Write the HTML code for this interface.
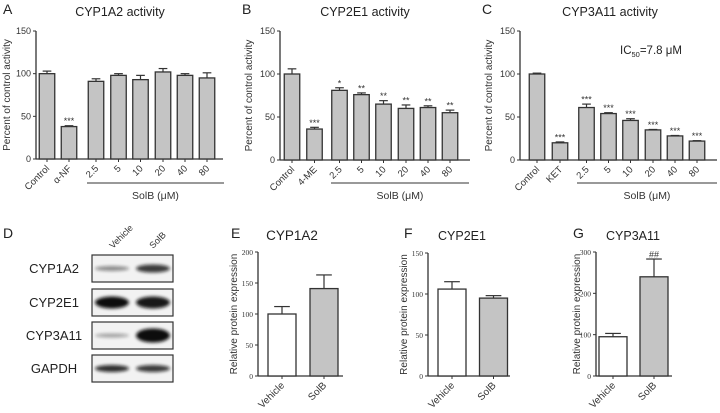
<!DOCTYPE html>
<html><head><meta charset="utf-8"><style>
body{margin:0;background:#fff}
svg{display:block;font-family:"Liberation Sans",sans-serif}
</style></head><body>
<svg id="fig" width="720" height="413" viewBox="0 0 720 413">
<defs><filter id="bl" x="-20%" y="-100%" width="140%" height="300%"><feGaussianBlur stdDeviation="1.6"/></filter></defs>
</svg>
<script>
// Panel A data
const catsA = ["Control","α-NF","2.5","5","10","20","40","80"];
const valsA = [100,38,91,98,93,102,98,95];
const errA = [3,1,3,2,5,4,2,6];
const starsA = ["","***","","","","","",""];
// Panel B data
const catsB = ["Control","4-ME","2.5","5","10","20","40","80"];
const valsB = [100,36,81,76,65,60,61,55];
const errB = [6,2,3,2,4,4,2,3];
const starsB = ["","***","*","**","**","**","**","**"];
// Panel C data
const catsC = ["Control","KET","2.5","5","10","20","40","80"];
const valsC = [100,20,61,54,46,35,28,22];
const errC = [1,1,4,1,2,0.5,0.5,0.5];
const starsC = ["","***","***","***","***","***","***","***"];
const ticksTop = [0,50,100,150];
// Panels E-G data
const catsWB = ["Vehicle","SolB"];
const valsE = [100,141]; const errE = [12,22]; const ticksE = [0,50,100,150,200];
const valsF = [106,95]; const errF = [9,3]; const ticksF = [0,50,100,150];
const valsG = [95,240]; const errG = [8,43]; const ticksG = [0,100,200,300];
const starsG = ["","##"];

const svg = document.getElementById('fig');
const NS = 'http://www.w3.org/2000/svg';
function el(tag, attrs, parent, text){
  const e = document.createElementNS(NS, tag);
  for (const k in attrs) e.setAttribute(k, attrs[k]);
  if (text !== undefined) e.textContent = text;
  (parent || svg).appendChild(e);
  return e;
}

function chart(o){
  const g = el('g', {});
  
  
  const y = v => o.y0 - (v / o.max) * (o.y0 - o.yTop);
  const ax = el('line', {x1:o.ax, y1:o.yTop, x2:o.ax, y2:o.y0, stroke:'#333','stroke-width':1.3}, g);
  
  
  const bx = el('line', {x1:o.ax, y1:o.y0, x2:o.xEnd, y2:o.y0, stroke:'#333','stroke-width':1.3}, g);
  
  
  o.ticks.forEach(t => {
    el('line', {x1:o.ax-3, y1:y(t), x2:o.ax, y2:y(t), stroke:'#333'}, g);
    const tl = el('text', {x:o.ax-5, y:y(t)+3, 'text-anchor':'end', 'font-size':o.tfs, fill:'#333', 'font-family':o.tff || 'Liberation Sans'}, g, t);
    
    
  });
  o.vals.forEach((v, i) => {
    const c = o.centers[i], w = o.bw;
    const e = o.err[i];
    el('line', {x1:c, y1:y(v), x2:c, y2:y(v+e), stroke:'#333','stroke-width':1.2}, g);
    el('line', {x1:c-w*0.28, y1:y(v+e), x2:c+w*0.28, y2:y(v+e), stroke:'#333','stroke-width':1.2}, g);
    const b = el('rect', {x:c-w/2, y:y(v), width:w, height:o.y0-y(v), fill:o.fills[i], stroke:'#333','stroke-width':1.3}, g);
    
    
    el('line', {x1:c, y1:o.y0, x2:c, y2:o.y0+3, stroke:'#333'}, g);
    const lbl = el('text', {x:c+3, y:o.y0+10, 'text-anchor':'end', 'font-size':o.xfs, fill:'#333', transform:`rotate(-45 ${c+3} ${o.y0+10})`}, g, o.cats[i]);
    
    
    if (o.stars && o.stars[i]) {
      const s = el('text', {x:c, y:y(v+e)-1.5, 'text-anchor':'middle', 'font-size':9, fill:'#333'}, g, o.stars[i]);
      
      
    }
  });
  const tt = el('text', {x:o.tx, y:o.ty, 'text-anchor':'middle', 'font-size':o.tsz, fill:'#222'}, g, o.title);
  
  
  const lt = el('text', {x:o.lx, y:o.ly, 'font-size':14, fill:'#222'}, g, o.letter);
  
  
  const yc = (o.yTop + o.y0) / 2;
  const yt = el('text', {x:o.ytx, y:yc, 'text-anchor':'middle', 'font-size':o.ytfs, fill:'#333', transform:`rotate(-90 ${o.ytx} ${yc})`}, g, o.ytitle);
  
  
  if (o.ul) {
    el('line', {x1:o.ul[0], y1:183, x2:o.ul[1], y2:183, stroke:'#333'}, g);
    const sl = el('text', {x:(o.ul[0]+o.ul[1])/2, y:199, 'text-anchor':'middle', 'font-size':10.5, fill:'#333'}, g, 'SolB (μM)');
    
    
  }
}
const grey = '#c4c4c4';
const topCenters = [47,69,96,118.5,140.5,163,185,207];
chart({name:'cyp1a2-activity-chart', ax:36, yTop:31, y0:159, xEnd:223, max:150, ticks:ticksTop, vals:valsA, err:errA, cats:catsA, stars:starsA,
  centers:topCenters, bw:15.5, fills:valsA.map(()=>grey), tfs:9, xfs:9.5, title:'CYP1A2 activity', tx:120, ty:16, tsz:12.5, letter:'A', lx:3, ly:14,
  ytitle:'Percent of control activity', ytx:10, ytfs:10, ul:[87,224]});
chart({name:'cyp2e1-activity-chart', ax:280, yTop:31, y0:160, xEnd:470, max:150, ticks:ticksTop, vals:valsB, err:errB, cats:catsB, stars:starsB,
  centers:[292,314.5,339.5,361.5,383.5,406,428,450], bw:15.5, fills:valsB.map(()=>grey), tfs:9, xfs:9.5, title:'CYP2E1 activity', tx:365, ty:16, tsz:12.5, letter:'B', lx:242, ly:14,
  ytitle:'Percent of control activity', ytx:252, ytfs:10, ul:[331,469]});
chart({name:'cyp3a11-activity-chart', ax:520, yTop:31, y0:160, xEnd:717, max:150, ticks:ticksTop, vals:valsC, err:errC, cats:catsC, stars:starsC,
  centers:[537,560,586.5,608.5,630.5,653,675,697], bw:15.5, fills:valsC.map(()=>grey), tfs:9, xfs:9.5, title:'CYP3A11 activity', tx:610, ty:16, tsz:12.5, letter:'C', lx:482, ly:14,
  ytitle:'Percent of control activity', ytx:492, ytfs:10, ul:[577,717]});
const ic = el('text', {x:620, y:54, 'font-size':11.5, fill:'#222'});
ic.innerHTML = 'IC<tspan font-size="7.5" dy="3">50</tspan><tspan dy="-3">=7.8 μM</tspan>';



chart({name:'cyp1a2-expression-chart', ax:258, yTop:252, y0:376, xEnd:343, max:200, ticks:ticksE, vals:valsE, err:errE, cats:catsWB,
  centers:[282,324], bw:28, fills:['#fff',grey], tfs:7.5, tff:'Liberation Serif', xfs:10, title:'CYP1A2', tx:292, ty:240, tsz:13.5, letter:'E', lx:231, ly:238,
  ytitle:'Relative protein expression', ytx:237, ytfs:10});
chart({name:'cyp2e1-expression-chart', ax:428, yTop:253, y0:376, xEnd:510, max:150, ticks:ticksF, vals:valsF, err:errF, cats:catsWB,
  centers:[452,493.5], bw:28, fills:['#fff',grey], tfs:7.5, tff:'Liberation Serif', xfs:10, title:'CYP2E1', tx:462, ty:240, tsz:12.5, letter:'F', lx:404, ly:238,
  ytitle:'Relative protein expression', ytx:407, ytfs:10});
chart({name:'cyp3a11-expression-chart', ax:596, yTop:252, y0:376, xEnd:672, max:300, ticks:ticksG, vals:valsG, err:errG, cats:catsWB,
  centers:[613,654], bw:28, fills:['#fff',grey], tfs:7.5, tff:'Liberation Serif', xfs:10, title:'CYP3A11', tx:633, ty:240, tsz:12.5, letter:'G', lx:573, ly:238,
  ytitle:'Relative protein expression', ytx:580, ytfs:10, stars:starsG});

// Western blot panel D
const blotRows = ["CYP1A2","CYP2E1","CYP3A11","GAPDH"];
const blotY = [255,289,322,355];
const bandV = [[0.45,2.5],[1,6],[0.35,2],[0.85,3.5]];
const bandS = [[0.8,4],[0.95,6],[1,7],[0.8,3.5]];
const gd = el('g', {});


const dl = el('text', {x:3, y:238, 'font-size':14, fill:'#222'}, gd, 'D');


[["Vehicle",113],["SolB",153]].forEach(([t,x]) => {
  const h = el('text', {x:x, y:249, 'font-size':9, fill:'#333', transform:`rotate(-45 ${x} 249)`}, gd, t);
  
  
});
blotRows.forEach((r, i) => {
  const y0 = blotY[i];
  const bx = el('rect', {x:92, y:y0, width:81, height:27, fill:'#f2f2f2', stroke:'#333', 'stroke-width':1.2}, gd);
  
  
  [[112,bandV[i]],[153,bandS[i]]].forEach(([cx,b]) => {
    el('ellipse', {cx:cx, cy:y0+13.5, rx:17, ry:b[1], fill:'#111', opacity:b[0], filter:'url(#bl)'}, gd);
  });
  const lb = el('text', {x:54, y:y0+18, 'text-anchor':'middle', 'font-size':13, fill:'#222'}, gd, r);
  
  
});
</script>
</body></html>
